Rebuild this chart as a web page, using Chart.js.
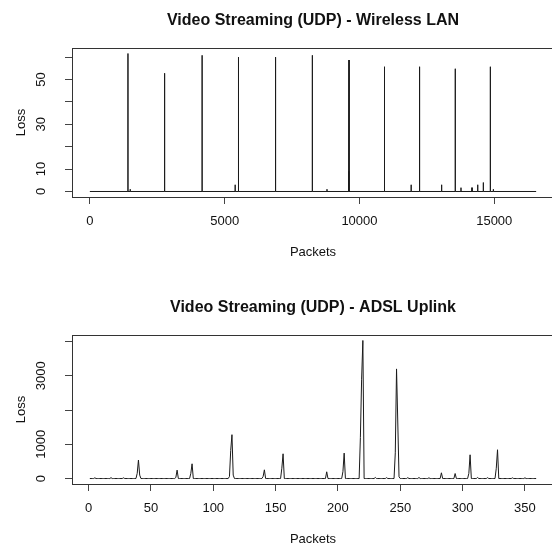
<!DOCTYPE html>
<html>
<head>
<meta charset="utf-8">
<script src="https://cdn.jsdelivr.net/npm/chart.js@4.4.1/dist/chart.umd.min.js"></script>
<style>
  html, body { margin: 0; padding: 0; background: #fff; overflow: hidden; width: 552px; height: 545px; }
  canvas { position: absolute; left: 0; }
  #wlan { top: 0; }
  #adsl { top: 287px; }
</style>
</head>
<body>
<canvas id="wlan" width="570" height="287"></canvas>
<canvas id="adsl" width="570" height="287"></canvas>
<script>
// Wireless LAN: packet number of each loss burst and its size
const wlanPackets = [1413, 1498, 2773, 4164, 5390, 5513, 6888, 8253, 8796, 9600, 9613, 10929,
  11918, 12230, 13048, 13554, 13766, 14175, 14387, 14595, 14855, 14967];
const wlanLoss = [61.6, 1, 52.8, 60.8, 3, 60, 60, 60.8, 1, 9, 58.7, 55.7,
  3, 55.7, 3, 54.8, 1.7, 1.7, 3, 4, 55.7, 1];
const wlanLastPacket = 16554;
const wlanXTicks = [0, 5000, 10000, 15000];
const wlanYTicks = [0, 10, 20, 30, 40, 50, 60];
const wlanYLabels = [0, 10, 30, 50];

// ADSL uplink: packets with non-zero loss (all others are 0)
const adslPackets = [5, 18, 28, 39, 40, 41, 70, 71, 82, 83, 113, 114, 115, 116, 140, 141, 155, 156,
  191, 204, 205, 218, 219, 220, 230, 239, 246, 247, 248, 249, 256, 265, 273, 283, 294,
  305, 306, 312, 320, 327, 328, 340, 350];
const adslLoss = [20, 25, 20, 150, 540, 100, 30, 245, 150, 430, 60, 820, 1280, 100, 60, 254, 300, 722,
  196, 200, 742, 1200, 2900, 4030, 30, 25, 750, 3200, 1650, 50, 25, 30, 20, 167, 146,
  150, 693, 30, 25, 300, 840, 20, 20];
const adslFirstPacket = 1;
const adslLastPacket = 359;
const adslXTicks = [0, 50, 100, 150, 200, 250, 300, 350];
const adslYTicks = [0, 1000, 2000, 3000, 4000];
const adslYLabels = [0, 1000, 3000];

const FONT = '"Liberation Sans", Arial, Helvetica, sans-serif';
Chart.defaults.font.family = FONT;
Chart.defaults.color = '#111';

function spikePoints(xs, ys, last) {
  const pts = [{ x: 0, y: 0 }];
  xs.forEach((x, i) => {
    pts.push({ x: x - 1, y: 0 }, { x: x, y: ys[i] }, { x: x + 1, y: 0 });
  });
  pts.push({ x: last, y: 0 });
  return pts;
}

function seriesPoints(xs, ys, first, last) {
  const pts = [];
  for (let p = first; p <= last; p++) {
    const i = xs.indexOf(p);
    pts.push({ x: p, y: i >= 0 ? ys[i] : 0 });
  }
  return pts;
}

// R style box round the plot region
const boxPlugin = {
  id: 'box',
  afterDraw(chart) {
    const { ctx, chartArea: a } = chart;
    ctx.save();
    ctx.strokeStyle = '#333';
    ctx.lineWidth = 1;
    ctx.strokeRect(a.left + 0.5, a.top + 0.5, a.right - a.left, a.bottom - a.top);
    ctx.restore();
  }
};

// y tick labels written parallel to the axis, like R does
const yLabelPlugin = {
  id: 'yLabels',
  afterDraw(chart, args, opts) {
    const ctx = chart.ctx;
    const y = chart.scales.y;
    ctx.save();
    ctx.font = '13px ' + FONT;
    ctx.fillStyle = '#111';
    ctx.textAlign = 'center';
    ctx.textBaseline = 'middle';
    opts.labels.forEach(v => {
      ctx.save();
      ctx.translate(41.7, y.getPixelForValue(v));
      ctx.rotate(-Math.PI / 2);
      ctx.fillText(String(v), 0, 0);
      ctx.restore();
    });
    ctx.restore();
  }
};

function makeChart(id, title, points, xMin, xMax, yMin, yMax, xTicks, yTicks, yLabels) {
  const ctx = document.getElementById(id).getContext('2d');
  return new Chart(ctx, {
    type: 'line',
    data: {
      datasets: [{
        data: points,
        borderColor: '#1a1a1a',
        borderWidth: 1,
        pointRadius: 0,
        tension: 0,
        fill: false
      }]
    },
    plugins: [boxPlugin, yLabelPlugin],
    options: {
      responsive: false,
      animation: false,
      devicePixelRatio: 1,
      layout: { padding: { left: 0, top: 0, bottom: 0, right: 16 } },
      plugins: {
        legend: { display: false },
        tooltip: { enabled: false },
        title: {
          display: true,
          text: title,
          fullSize: false,
          color: '#111',
          font: { size: 16, weight: 'bold' },
          padding: { top: 11, bottom: 17.8 }
        },
        yLabels: { labels: yLabels }
      },
      scales: {
        x: {
          type: 'linear',
          min: xMin,
          max: xMax,
          afterBuildTicks: s => { s.ticks = xTicks.map(v => ({ value: v })); },
          afterFit: s => { s.height = 90; },
          ticks: {
            autoSkip: false,
            maxRotation: 0,
            padding: 9.2,
            color: '#111',
            font: { size: 13 },
            callback: v => String(v)
          },
          grid: { drawOnChartArea: false, drawTicks: true, tickLength: 7, color: '#444' },
          border: { display: false },
          title: {
            display: true,
            text: 'Packets',
            color: '#111',
            font: { size: 13 },
            padding: { top: 0, bottom: 26.9 }
          }
        },
        y: {
          min: yMin,
          max: yMax,
          afterBuildTicks: s => { s.ticks = yTicks.map(v => ({ value: v })); },
          afterFit: s => { s.width = 72; },
          ticks: { display: false },
          grid: { drawOnChartArea: false, drawTicks: true, tickLength: 7, color: '#444' },
          border: { display: false },
          title: {
            display: true,
            text: 'Loss',
            color: '#111',
            font: { size: 13 },
            padding: { top: 13.9, bottom: 0 }
          }
        }
      }
    }
  });
}

makeChart('wlan', 'Video Streaming (UDP) - Wireless LAN',
  spikePoints(wlanPackets, wlanLoss, wlanLastPacket),
  -662, 17216, -2.46, 64.06, wlanXTicks, wlanYTicks, wlanYLabels);

makeChart('adsl', 'Video Streaming (UDP) - ADSL Uplink',
  seriesPoints(adslPackets, adslLoss, adslFirstPacket, adslLastPacket),
  -13.3, 373.3, -160, 4190, adslXTicks, adslYTicks, adslYLabels);
</script>
</body>
</html>
